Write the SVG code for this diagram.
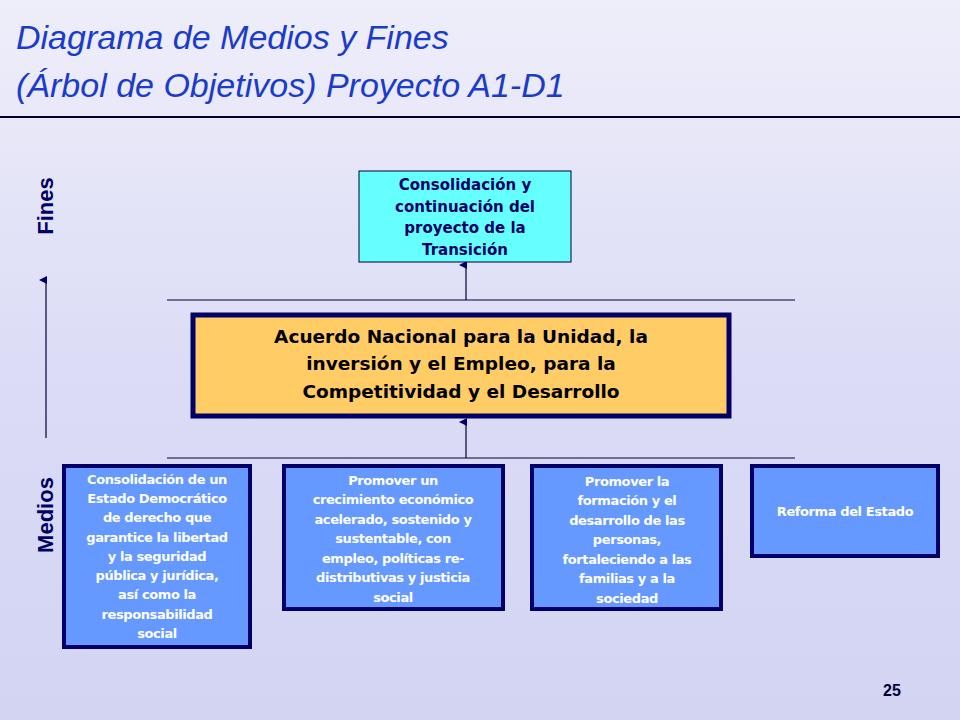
<svg xmlns="http://www.w3.org/2000/svg" width="960" height="720" viewBox="0 0 960 720">
<defs>
<linearGradient id="bg" x1="0" y1="0" x2="0" y2="1"><stop offset="0" stop-color="#eeeefa"/><stop offset="0.5" stop-color="#dcdcf6"/><stop offset="1" stop-color="#d2d4f2"/></linearGradient>
<marker id="ah" markerWidth="8" markerHeight="8" refX="4" refY="7" orient="auto-start-reverse" markerUnits="userSpaceOnUse" viewBox="0 0 8 8"><path d="M0,8 L4,0 L8,8 Z" fill="#000066"/></marker>
</defs>
<style>
.t{font-family:"DejaVu Sans",Tahoma,sans-serif;font-weight:bold;text-anchor:middle}
.w{fill:#fff;font-size:13px;letter-spacing:-0.4px}
.b{fill:#000066;font-size:15px}
.m{fill:#000;font-size:18.5px}
.bb{fill:#6699ff;stroke:#000066;stroke-width:4}
.ln{stroke:#000033;stroke-width:1.2;fill:none}
</style>
<rect width="960" height="720" fill="url(#bg)"/>
<g id="title" font-family="Liberation Sans,Arial,sans-serif" font-style="italic" font-size="34" fill="#1a3cc8">
<text x="16" y="49">Diagrama de Medios y Fines</text>
<text x="16" y="97">(Árbol de Objetivos) Proyecto A1-D1</text>
</g>
<line x1="0" y1="117" x2="960" y2="117" stroke="#000033" stroke-width="2"/>
<g id="axis" font-family="Liberation Sans,Arial,sans-serif" font-weight="bold" font-size="22" fill="#000066">
<text transform="translate(53,206) rotate(-90)" text-anchor="middle">Fines</text>
<text transform="translate(53,515) rotate(-90)" text-anchor="middle">Medios</text>
</g>
<g id="connectors">
<line class="ln" x1="46" y1="438" x2="46" y2="280" stroke="#000066" marker-end="url(#ah)"/>
<line class="ln" x1="167" y1="300" x2="795" y2="300"/>
<line class="ln" x1="167" y1="458" x2="795" y2="458"/>
<line class="ln" x1="466" y1="300" x2="466" y2="265" marker-end="url(#ah)"/>
<line class="ln" x1="466" y1="458" x2="466" y2="422" marker-end="url(#ah)"/>
</g>
<g id="fin">
<rect x="359" y="171" width="212" height="91" fill="#66ffff" stroke="#000033" stroke-width="1"/>
<text class="t b"><tspan x="465" y="190">Consolidación y</tspan><tspan x="465" y="212">continuación del</tspan><tspan x="465" y="233">proyecto de la</tspan><tspan x="465" y="255">Transición</tspan></text>
</g>
<g id="acuerdo">
<rect x="193" y="315" width="536" height="101" fill="#ffcc66" stroke="#000066" stroke-width="5"/>
<text class="t m"><tspan x="461" y="343">Acuerdo Nacional para la Unidad, la</tspan><tspan x="461" y="370">inversión y el Empleo, para la</tspan><tspan x="461" y="398">Competitividad y el Desarrollo</tspan></text>
</g>
<g id="m1">
<rect class="bb" x="64" y="466" width="186" height="181"/>
<text class="t w"><tspan x="157" y="484">Consolidación de un</tspan><tspan x="157" y="503">Estado Democrático</tspan><tspan x="157" y="522">de derecho que</tspan><tspan x="157" y="542">garantice la libertad</tspan><tspan x="157" y="561">y la seguridad</tspan><tspan x="157" y="580">pública y jurídica,</tspan><tspan x="157" y="599">así como la</tspan><tspan x="157" y="619">responsabilidad</tspan><tspan x="157" y="638">social</tspan></text>
</g>
<g id="m2">
<rect class="bb" x="284" y="466" width="219" height="143"/>
<text class="t w"><tspan x="393" y="485">Promover un</tspan><tspan x="393" y="504">crecimiento económico</tspan><tspan x="393" y="524">acelerado, sostenido y</tspan><tspan x="393" y="543">sustentable, con</tspan><tspan x="393" y="563">empleo,  políticas re-</tspan><tspan x="393" y="582">distributivas y justicia</tspan><tspan x="393" y="602">social</tspan></text>
</g>
<g id="m3">
<rect class="bb" x="532" y="466" width="189" height="143"/>
<text class="t w"><tspan x="627" y="486">Promover la</tspan><tspan x="627" y="505">formación y el</tspan><tspan x="627" y="525">desarrollo de las</tspan><tspan x="627" y="544">personas,</tspan><tspan x="627" y="564">fortaleciendo a las</tspan><tspan x="627" y="583">familias y a la</tspan><tspan x="627" y="603">sociedad</tspan></text>
</g>
<g id="m4">
<rect class="bb" x="752" y="466" width="186" height="90"/>
<text class="t w" x="845" y="516">Reforma del Estado</text>
</g>
<text x="892" y="696" font-family="Liberation Sans,Arial,sans-serif" font-weight="bold" font-size="16" fill="#000033" text-anchor="middle">25</text>
</svg>
